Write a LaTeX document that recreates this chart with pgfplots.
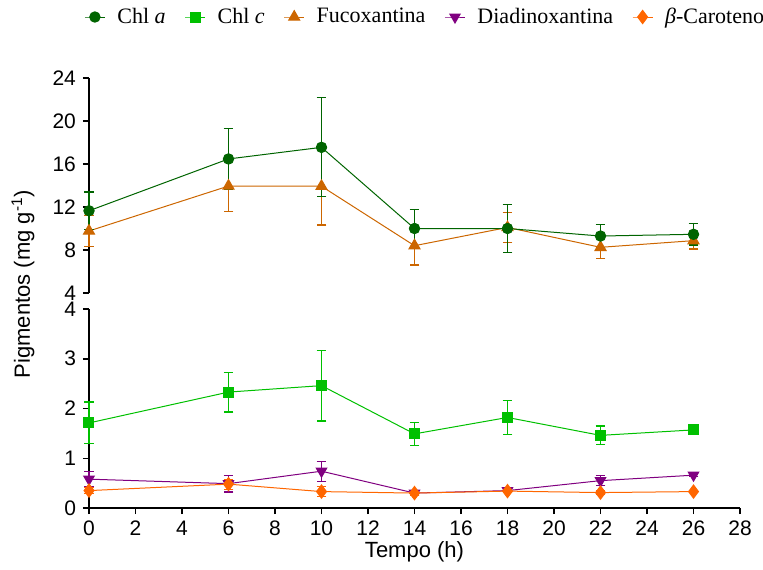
\documentclass[border=0pt]{standalone}
\usepackage{fontspec}
\setmainfont{Liberation Sans}
\newfontfamily\serif{Liberation Serif}
\usepackage{pgfplots}
\usepackage{pgfplotstable}
\pgfplotsset{compat=1.18}
\definecolor{cA}{HTML}{006400}
\definecolor{cC}{HTML}{00C000}
\definecolor{cF}{HTML}{CC6600}
\definecolor{cD}{HTML}{800080}
\definecolor{cB}{HTML}{FF6600}

\pgfplotstableread{
x y e
0 11.65 1.75
6 16.47 2.85
10 17.55 4.6
14 10.0 1.8
18 10.0 2.2
22 9.3 1.05
26 9.46 1.0
}\chla
\pgfplotstableread{
x y e
0 9.77 1.43
6 13.95 2.4
10 13.93 3.6
14 8.4 1.8
18 10.1 1.4
22 8.25 1.05
26 8.87 0.78
}\fuco
\pgfplotstableread{
x y e
0 1.71 0.42
6 2.33 0.40
10 2.46 0.71
14 1.49 0.23
18 1.82 0.345
22 1.46 0.19
26 1.57 0.04
}\chlc
\pgfplotstableread{
x y e
0 0.58 0.15
6 0.49 0.17
10 0.74 0.20
14 0.30 0.04
18 0.35 0.04
22 0.55 0.10
26 0.66 0.03
}\diad
\pgfplotstableread{
x y e
0 0.35 0.06
6 0.48 0.10
10 0.33 0.10
14 0.30 0.04
18 0.34 0.03
22 0.31 0.03
26 0.33 0.02
}\betac

\pgfplotsset{
  common/.style={
    scale only axis, width=325.5pt, xmin=0, xmax=28, clip=false,
    tick align=outside, major tick length=3pt,
    axis line style={line width=0.75pt},
    major tick style={line width=0.75pt, black},
    ticklabel style={font=\fontsize{10.5}{12}\selectfont},
    /pgf/number format/assume math mode=true,
  },
  ser/.style={line width=0.5pt, color=#1, mark options={solid, fill=#1, draw=#1},
    /pgfplots/error bars/y dir=both, /pgfplots/error bars/y explicit,
    /pgfplots/error bars/error bar style={line width=0.6pt, color=#1},
    /pgfplots/error bars/error mark options={rotate=90, mark size=2.4pt, line width=0.6pt, color=#1}},
  sA/.style={ser=cA, mark=*, mark size=2.6pt},
  sC/.style={ser=cC, mark=square*, mark size=2.5pt},
  sF/.style={ser=cF, mark=triangle*, mark size=3.2pt},
  sD/.style={ser=cD, mark=triangle*, mark size=3.0pt, mark options={rotate=180}},
  sB/.style={ser=cB, mark=diamond*, mark size=3.3pt},
}

\begin{document}
\begin{tikzpicture}
\useasboundingbox (-44.5pt,-30.5pt) rectangle (337pt,254pt);
% lower segment
\begin{axis}[common, at={(0pt,0pt)}, anchor=south west,
  height=99.5pt, ymin=0, ymax=4,
  axis lines*=left,
  xtick={0,2,...,28}, ytick={0,1,2,3,4},
  xlabel={Tempo (h)},
  xlabel style={font=\fontsize{11}{13}\selectfont, at={(axis description cs:0.5,0)}, anchor=center, yshift=-22pt},
]
\addplot[sC] table[x=x, y=y, y error=e] {\chlc};
\addplot[sD] table[x=x, y=y, y error=e] {\diad};
\addplot[sB] table[x=x, y=y, y error=e] {\betac};
\end{axis}
% upper segment
\begin{axis}[common, at={(0pt,107.5pt)}, anchor=south west,
  height=107.5pt, ymin=4, ymax=24,
  axis y line*=left, axis x line=none,
  ytick={4,8,...,24},
  legend columns=5,
  legend style={at={(0,1)}, anchor=west, xshift=-2.5pt, yshift=30.5pt,
    draw=none, fill=none, inner sep=0pt,
    font=\serif\fontsize{11}{13}\selectfont,
    nodes={inner sep=1pt},
    /tikz/every odd column/.append style={column sep=5pt},
    /tikz/every even column/.append style={column sep=8.5pt}},
  legend image code/.code={\draw[mark repeat=2, mark phase=2, #1] plot coordinates {(0pt,0pt) (5pt,0pt) (10pt,0pt)};},
]
\addlegendimage{line width=0.5pt, color=cA, mark=*, mark size=2.6pt, mark options={fill=cA}}
\addlegendimage{line width=0.5pt, color=cC, mark=square*, mark size=2.5pt, mark options={fill=cC}}
\addlegendimage{line width=0.5pt, color=cF, mark=triangle*, mark size=3.2pt, mark options={fill=cF}}
\addlegendimage{line width=0.5pt, color=cD, mark=triangle*, mark size=3pt, mark options={fill=cD, rotate=180}}
\addlegendimage{line width=0.5pt, color=cB, mark=diamond*, mark size=3.3pt, mark options={fill=cB}}
\legend{Chl \textit{a}, Chl \textit{c}, Fucoxantina, Diadinoxantina, \textit{β}-Caroteno}
\addplot[sF, forget plot] table[x=x, y=y, y error=e] {\fuco};
\addplot[sA, forget plot] table[x=x, y=y, y error=e] {\chla};
\end{axis}
\node[rotate=90, font=\fontsize{11}{13}\selectfont] at (-33pt,112pt) {Pigmentos (mg g\textsuperscript{-1})};
\end{tikzpicture}
\end{document}
